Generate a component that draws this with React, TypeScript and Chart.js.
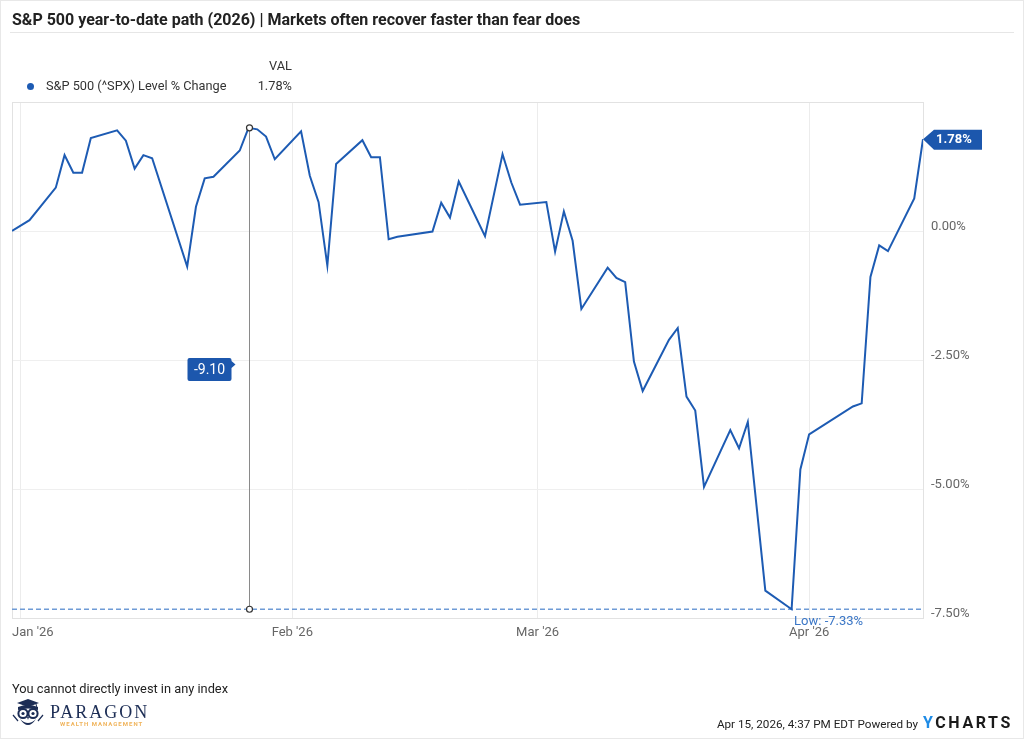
import React, { useEffect, useRef } from "react";
import { Chart, registerables } from "chart.js";

Chart.register(...registerables);

// ---- Data (day of year 2026; 0 = Dec 31, 2025 base) ----
const tradingDays: number[] = [
  0, 2, 5, 6, 7, 8, 9, 12, 13, 14, 15, 16, 20, 21, 22, 23, 26, 27, 28, 29, 30,
  33, 34, 35, 36, 37, 40, 41, 42, 43, 44, 48, 49, 50, 51, 54, 56, 57, 58,
  61, 62, 63, 64, 65, 68, 69, 70, 71, 72, 75, 76, 77, 78, 79, 82, 83, 84, 86, 89, 90,
  91, 96, 97, 98, 99, 100, 103, 104,
];
const pctChange: number[] = [
  0.0, 0.21, 0.84, 1.47, 1.13, 1.13, 1.8, 1.95, 1.75, 1.21, 1.47, 1.41, -0.69, 0.47, 1.02, 1.05, 1.56, 2.0, 1.97, 1.83, 1.39,
  1.93, 1.07, 0.56, -0.67, 1.3, 1.76, 1.43, 1.43, -0.16, -0.11, -0.01, 0.55, 0.26, 0.96, -0.1, 1.49, 0.94, 0.51,
  0.56, -0.4, 0.38, -0.19, -1.51, -0.71, -0.91, -0.99, -2.53, -3.1, -2.11, -1.88, -3.21, -3.48, -4.96, -3.86, -4.21, -3.7, -6.97, -7.33, -4.62,
  -3.94, -3.4, -3.34, -0.89, -0.28, -0.39, 0.63, 1.78,
];
const monthTickDays: number[] = [1, 32, 60, 91];
const monthTickLabels: string[] = ["Jan '26", "Feb '26", "Mar '26", "Apr '26"];
const yTickValues: number[] = [0, -2.5, -5, -7.5];
const seriesName = "S&P 500 (^SPX) Level % Change";
const lastValueLabel = "1.78%";
const lowValue = -7.33;
const lowLabel = "Low: -7.33%";
const measureStartDay = 27;
const measureStartValue = 2.0;
const measureLabel = "-9.10";

const LINE_COLOR = "#1d5bb3";
const BOX_COLOR = "#1c57ad";

const overlayPlugin = {
  id: "overlay",
  beforeDatasetsDraw(chart: any) {
    const { ctx, chartArea, scales } = chart;
    const xs = scales.x;
    const ys = scales.y;
    ctx.save();
    // plot frame
    ctx.strokeStyle = "#e2e2e2";
    ctx.lineWidth = 1;
    ctx.strokeRect(chartArea.left + 0.5, chartArea.top + 0.5, chartArea.right - chartArea.left, chartArea.bottom - chartArea.top);
    // low dashed line
    const ly = ys.getPixelForValue(lowValue);
    ctx.strokeStyle = "#6f9bd6";
    ctx.lineWidth = 1.5;
    ctx.setLineDash([5, 3]);
    ctx.beginPath();
    ctx.moveTo(chartArea.left, ly);
    ctx.lineTo(chartArea.right, ly);
    ctx.stroke();
    ctx.setLineDash([]);
    // measurement vertical line
    const mx = xs.getPixelForValue(measureStartDay);
    const my1 = ys.getPixelForValue(measureStartValue);
    ctx.strokeStyle = "#8a8a8a";
    ctx.lineWidth = 1;
    ctx.beginPath();
    ctx.moveTo(Math.round(mx) + 0.5, my1);
    ctx.lineTo(Math.round(mx) + 0.5, ly);
    ctx.stroke();
    ctx.restore();
  },
  afterDatasetsDraw(chart: any) {
    const { ctx, chartArea, scales } = chart;
    const xs = scales.x;
    const ys = scales.y;
    ctx.save();
    const ly = ys.getPixelForValue(lowValue);
    const mx = Math.round(xs.getPixelForValue(measureStartDay)) + 0.5;
    const my1 = ys.getPixelForValue(measureStartValue);
    // end circles
    for (const cy of [my1, ly]) {
      ctx.beginPath();
      ctx.arc(mx, cy, 3, 0, Math.PI * 2);
      ctx.fillStyle = "#ffffff";
      ctx.fill();
      ctx.strokeStyle = "#333333";
      ctx.lineWidth = 1.2;
      ctx.stroke();
    }
    // measurement box
    const midY = (my1 + ly) / 2 + 1;
    const bRight = mx - 18;
    const bLeft = bRight - 44;
    const bTop = midY - 11.5;
    const bBot = midY + 11.5;
    ctx.fillStyle = BOX_COLOR;
    ctx.beginPath();
    ctx.moveTo(bLeft + 2, bTop);
    ctx.lineTo(bRight - 2, bTop);
    ctx.quadraticCurveTo(bRight, bTop, bRight, bTop + 2);
    ctx.lineTo(bRight, bTop + 3);
    ctx.lineTo(bRight + 4, bTop + 6.5);
    ctx.lineTo(bRight, bTop + 10);
    ctx.lineTo(bRight, bBot - 2);
    ctx.quadraticCurveTo(bRight, bBot, bRight - 2, bBot);
    ctx.lineTo(bLeft + 2, bBot);
    ctx.quadraticCurveTo(bLeft, bBot, bLeft, bBot - 2);
    ctx.lineTo(bLeft, bTop + 2);
    ctx.quadraticCurveTo(bLeft, bTop, bLeft + 2, bTop);
    ctx.fill();
    ctx.fillStyle = "#ffffff";
    ctx.font = "14px Roboto";
    ctx.textAlign = "center";
    ctx.textBaseline = "middle";
    ctx.fillText(measureLabel, (bLeft + bRight) / 2, midY + 0.5);

    // last value box
    const lastIdx = tradingDays.length - 1;
    const lx = xs.getPixelForValue(tradingDays[lastIdx]);
    const lyv = ys.getPixelForValue(pctChange[lastIdx]);
    const top = lyv - 9.5;
    const bot = lyv + 10.5;
    ctx.fillStyle = BOX_COLOR;
    ctx.beginPath();
    ctx.moveTo(lx, lyv);
    ctx.lineTo(lx + 11, top);
    ctx.lineTo(lx + 59, top);
    ctx.lineTo(lx + 59, bot);
    ctx.lineTo(lx + 11, bot);
    ctx.closePath();
    ctx.fill();
    ctx.fillStyle = "#ffffff";
    ctx.font = "bold 13px Roboto";
    ctx.textAlign = "left";
    ctx.textBaseline = "middle";
    ctx.fillText(lastValueLabel, lx + 13, lyv + 1);

    // low label
    const lowIdx = pctChange.indexOf(lowValue);
    const lowX = xs.getPixelForValue(tradingDays[lowIdx]);
    ctx.fillStyle = "#3a76c6";
    ctx.font = "13px Roboto";
    ctx.textAlign = "left";
    ctx.textBaseline = "middle";
    ctx.fillText(lowLabel, lowX + 2.5, ly + 13);

    // x tick labels (clamped inside plot)
    ctx.fillStyle = "#666666";
    ctx.font = "13px Roboto";
    ctx.textBaseline = "middle";
    ctx.textAlign = "left";
    monthTickDays.forEach((d, i) => {
      const cx = xs.getPixelForValue(d);
      const w = ctx.measureText(monthTickLabels[i]).width;
      const left = Math.max(chartArea.left, cx - w / 2);
      ctx.fillText(monthTickLabels[i], left, chartArea.bottom + 14.5);
    });
    ctx.restore();
  },
};

function Owl() {
  const c = "#1c2d55";
  return (
    <svg width="32" height="31" viewBox="0 0 32 31" style={{ position: "absolute", left: 12, top: 698 }}>
      <path d="M5 5 L16 1 L27 5 L16 9 Z" fill={c} />
      <path d="M24 6 L25 10" stroke={c} strokeWidth="1" />
      <path d="M6 9 Q16 5 26 9 L26 12 Q16 9 6 12 Z" fill={c} />
      <circle cx="11" cy="15.5" r="4.6" fill="none" stroke={c} strokeWidth="2" />
      <circle cx="21" cy="15.5" r="4.6" fill="none" stroke={c} strokeWidth="2" />
      <circle cx="11" cy="15.5" r="1.6" fill={c} />
      <circle cx="21" cy="15.5" r="1.6" fill={c} />
      <path d="M8 21 Q16 33 24 21 Q20 25 16 25 Q12 25 8 21 Z" fill={c} />
      <path d="M15 19 L16 22 L17 19 Z" fill={c} />
      <path d="M1 17 L6 23 M31 17 L26 23" stroke={c} strokeWidth="1.2" />
    </svg>
  );
}

export default function App() {
  const canvasRef = useRef<HTMLCanvasElement | null>(null);

  useEffect(() => {
    if (!canvasRef.current) return;
    const chart = new Chart(canvasRef.current, {
      type: "line",
      data: {
        datasets: [
          {
            label: seriesName,
            data: tradingDays.map((d, i) => ({ x: d, y: pctChange[i] })),
            borderColor: LINE_COLOR,
            borderWidth: 2,
            pointRadius: 0,
            tension: 0,
            fill: false,
          },
        ],
      },
      options: {
        animation: false,
        responsive: false,
        devicePixelRatio: 1,
        layout: { padding: { left: 12, top: 102, right: 0, bottom: 0 } },
        plugins: { legend: { display: false }, tooltip: { enabled: false }, title: { display: false } },
        events: [],
        scales: {
          x: {
            type: "linear",
            min: 0,
            max: tradingDays[tradingDays.length - 1],
            afterBuildTicks: (axis: any) => {
              axis.ticks = monthTickDays.map((v) => ({ value: v }));
            },
            afterFit: (axis: any) => {
              axis.height = 121;
            },
            ticks: { display: false },
            grid: { color: "#ececec", drawTicks: false, lineWidth: 1 },
            border: { display: true, color: "#d9d9d9" },
          },
          y: {
            type: "linear",
            position: "right",
            min: -7.5,
            max: 2.5,
            afterBuildTicks: (axis: any) => {
              axis.ticks = yTickValues.map((v) => ({ value: v }));
            },
            afterFit: (axis: any) => {
              axis.width = 101;
            },
            ticks: {
              callback: (v: any) => Number(v).toFixed(2) + "%",
              font: { family: "Roboto", size: 13 },
              color: "#666666",
              padding: 8,
              labelOffset: -4,
            },
            grid: { color: "#efefef", drawTicks: false, lineWidth: 1 },
            border: { display: true, color: "#e2e2e2" },
          },
        },
      } as any,
      plugins: [overlayPlugin],
    });
    return () => chart.destroy();
  }, []);

  const abs = (s: React.CSSProperties): React.CSSProperties => ({ position: "absolute", margin: 0, whiteSpace: "nowrap", ...s });

  return (
    <div
      style={{
        position: "absolute",
        left: 0,
        top: 0,
        width: 1024,
        height: 739,
        background: "#ffffff",
        fontFamily: "Roboto, sans-serif",
        overflow: "hidden",
      }}
    >
      <canvas ref={canvasRef} width={1024} height={739} style={{ position: "absolute", left: 0, top: 0, width: 1024, height: 739 }} />
      <div style={abs({ left: 0, top: 0, width: 1022, height: 737, border: "1px solid #e8e8e8", pointerEvents: "none" })} />
      <div style={abs({ left: 12, top: 11.5, fontSize: 16, lineHeight: "16px", fontWeight: 700, color: "#222" })}>
        S&amp;P 500 year-to-date path (2026) | Markets often recover faster than fear does
      </div>
      <div style={abs({ left: 10, top: 32, width: 1004, height: 1, background: "#e6e6e6" })} />
      <div style={abs({ left: 200, width: 92, top: 59, fontSize: 12.8, lineHeight: "13px", color: "#333", textAlign: "right" })}>VAL</div>
      <div style={abs({ left: 27, top: 82.5, width: 7, height: 7, borderRadius: "50%", background: LINE_COLOR })} />
      <div style={abs({ left: 46, top: 78.5, fontSize: 12.75, lineHeight: "13px", color: "#333" })}>{seriesName}</div>
      <div style={abs({ left: 200, width: 92, top: 78.5, fontSize: 12.8, lineHeight: "13px", color: "#333", textAlign: "right" })}>
        {lastValueLabel}
      </div>
      <div style={abs({ left: 12, top: 682, fontSize: 12.8, lineHeight: "13px", color: "#222" })}>You cannot directly invest in any index</div>
      <Owl />
      <div
        style={abs({
          left: 50,
          top: 702.5,
          fontSize: 18,
          lineHeight: "18px",
          fontFamily: "'Liberation Serif', serif",
          color: "#1c2d55",
          letterSpacing: "2px",
        })}
      >
        PARAGON
      </div>
      <div
        style={abs({
          left: 60,
          top: 720.5,
          fontSize: 6,
          lineHeight: "6px",
          fontWeight: 700,
          color: "#f0b45c",
          letterSpacing: "1px",
        })}
      >
        WEALTH MANAGEMENT
      </div>
      <div style={abs({ right: 106, top: 717.5, fontSize: 11.7, lineHeight: "12px", color: "#222", textAlign: "right" })}>
        Apr 15, 2026, 4:37 PM EDT Powered by
      </div>
      <div style={abs({ left: 923, top: 715, fontSize: 16, lineHeight: "16px", fontWeight: 700, color: "#1a1a1a", letterSpacing: "2.6px" })}>
        <span style={{ color: "#1e8be6" }}>Y</span>CHARTS
      </div>
    </div>
  );
}
